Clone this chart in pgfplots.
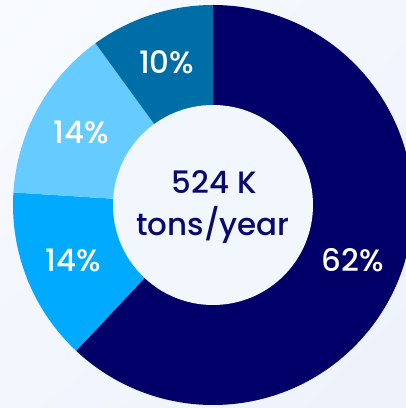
\documentclass[border=0pt]{standalone}
\usepackage{pgfplots}
\pgfplotsset{compat=1.18}
\usetikzlibrary{shadings}
\usepackage{fontspec}
\setmainfont{Poppins Medium}
\definecolor{cnavy}{HTML}{000068}
\definecolor{cbright}{HTML}{00AAFF}
\definecolor{clight}{HTML}{66CCFF}
\definecolor{csteel}{HTML}{006EA6}
\definecolor{bgA}{HTML}{F8FAFE}
\definecolor{bgB}{HTML}{EDF2FB}
\definecolor{bgC}{HTML}{F2F6FD}
\definecolor{ctext}{HTML}{0A0A6E}
\newcommand\labelfont{\fontsize{31}{43}\selectfont}
\begin{document}
\begin{tikzpicture}
\useasboundingbox (0,0) rectangle (406bp,408bp);
\clip (0,0) rectangle (406bp,408bp);
\shade[upper left=bgA, upper right=bgC, lower left=bgC, lower right=bgB] (0,0) rectangle (406bp,408bp);
\begin{axis}[
  at={(0,0)}, anchor=south west,
  width=406bp, height=408bp, scale only axis,
  xmin=-213, xmax=193, ymin=-203, ymax=205,
  hide axis, clip=true,
]
\xdef\curA{90}
\foreach \v/\c in {62/cnavy,14/cbright,14/clight,10/csteel}{
  \pgfmathsetmacro\curB{\curA-3.6*\v}
  \edef\temp{\noexpand\fill[\c] (axis cs:0,0) -- (axis cs:{200*cos(\curA)},{200*sin(\curA)}) arc[start angle=\curA, end angle=\curB, radius=200bp] -- cycle;}
  \temp
  \xdef\curA{\curB}
}
\fill[bgC] (axis cs:0,0) circle[radius=100bp];
\xdef\curA{90}
\foreach \v in {62,14,14,10}{
  \pgfmathsetmacro\curB{\curA-3.6*\v}
  \pgfmathsetmacro\curM{(\curA+\curB)/2}
  \edef\temp{\noexpand\node[text=white, font=\noexpand\labelfont, anchor=base, inner sep=0pt] at (axis cs:{150*cos(\curM)},{150*sin(\curM)-11}) {\v\noexpand\%};}
  \temp
  \xdef\curA{\curB}
}
\node[text=ctext, font=\labelfont, anchor=base, inner sep=0pt] at (axis cs:1,11.7) {524 K};
\node[text=ctext, font=\labelfont, anchor=base, inner sep=0pt] at (axis cs:0,-31) {tons/year};
\end{axis}
\end{tikzpicture}
\end{document}
